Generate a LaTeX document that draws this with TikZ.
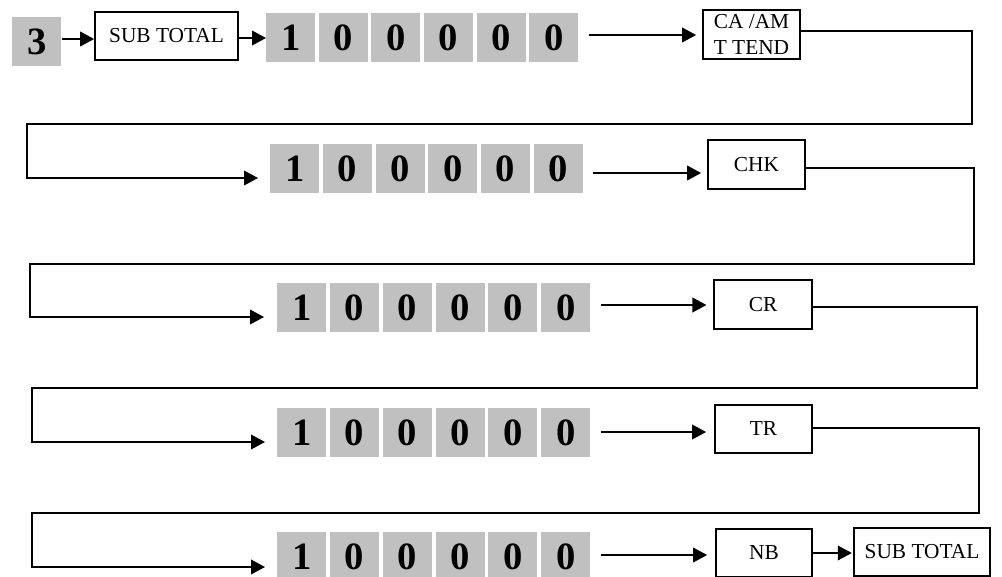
\documentclass[tikz,border=0pt]{standalone}
\usepackage{fontspec}
\setmainfont{Liberation Serif}
\usetikzlibrary{arrows.meta}
\definecolor{keygray}{RGB}{192,192,192}
\begin{document}
\begin{tikzpicture}[x=0.75pt,y=-0.75pt,
  key/.style={fill=keygray, minimum width=36.75pt, minimum height=36.75pt, inner sep=0pt,
    font=\fontsize{29}{29}\selectfont\bfseries, anchor=north west},
  lbl/.style={draw, line width=1.3pt, inner sep=0pt, align=center,
    font=\fontsize{16}{19}\selectfont},
  ln/.style={line width=1.2pt},
  arr/.style={ln, -{Triangle[length=10.5pt,width=11pt]}}]
\useasboundingbox (0,0) rectangle (1002,576);

% row 1
\node[key] (k3) at (12,17) {3};
\node[lbl, minimum width=107.25pt, minimum height=36pt] (st1) at (166.5,36) {SUB TOTAL};
\foreach \i/\t in {0/1,1/0,2/0,3/0,4/0,5/0}
  \node[key] (r1d\i) at ({266+52.6*\i},13) {\t};
\node[lbl, minimum width=72.75pt, minimum height=36.75pt] (ca) at (751.5,34.5) {CA /AM\\T TEND};

% row 2
\foreach \i/\t in {0/1,1/0,2/0,3/0,4/0,5/0}
  \node[key] (r2d\i) at ({270+52.7*\i},144) {\t};
\node[lbl, minimum width=72.75pt, minimum height=36.75pt] (chk) at (756.5,164.5) {CHK};

% row 3
\foreach \i/\t in {0/1,1/0,2/0,3/0,4/0,5/0}
  \node[key] (r3d\i) at ({277+52.8*\i},283) {\t};
\node[lbl, minimum width=73.5pt, minimum height=36.75pt] (cr) at (763,304.5) {CR};

% row 4
\foreach \i/\t in {0/1,1/0,2/0,3/0,4/0,5/0}
  \node[key] (r4d\i) at ({277+52.8*\i},408) {\t};
\node[lbl, minimum width=72.75pt, minimum height=36pt] (tr) at (763.5,429) {TR};

% row 5
\foreach \i/\t in {0/1,1/0,2/0,3/0,4/0,5/0}
  \node[key] (r5d\i) at ({277+52.8*\i},532) {\t};
\node[lbl, minimum width=72pt, minimum height=36pt] (nb) at (764,553) {NB};
\node[lbl, minimum width=102pt, minimum height=36pt] (st2) at (922,552) {SUB TOTAL};

% bend points
\coordinate (a1) at (972,31);  \coordinate (a2) at (972,124);
\coordinate (a3) at (27,124);  \coordinate (a4) at (27,178);
\coordinate (b1) at (974,168); \coordinate (b2) at (974,264);
\coordinate (b3) at (30,264);  \coordinate (b4) at (30,317);
\coordinate (c1) at (977,307); \coordinate (c2) at (977,388);
\coordinate (c3) at (32,388);  \coordinate (c4) at (32,442);
\coordinate (d1) at (979,428); \coordinate (d2) at (979,513);
\coordinate (e3) at (32,513);  \coordinate (e4) at (32,567);

% connectors row 1
\draw[arr] (k3.east |- 0,39) -- (st1.west |- 0,39);
\draw[arr] (st1.east |- 0,38) -- (r1d0.west |- 0,38);
\draw[arr, shorten <=7.5pt, shorten >=4.5pt] (r1d5.east |- 0,35) -- (ca.west |- 0,35);
\draw[arr, shorten >=9pt] (ca.east |- a1) -- (a1) -- (a2) -- (a3) -- (a4) -- (r2d0.west |- a4);

% row 2
\draw[arr, shorten <=7.5pt, shorten >=4.5pt] (r2d5.east |- 0,173) -- (chk.west |- 0,173);
\draw[arr, shorten >=9.75pt] (chk.east |- b1) -- (b1) -- (b2) -- (b3) -- (b4) -- (r3d0.west |- b4);

% row 3
\draw[arr, shorten <=7.5pt, shorten >=5pt] (r3d5.east |- 0,305) -- (cr.west |- 0,305);
\draw[arr, shorten >=9pt] (cr.east |- c1) -- (c1) -- (c2) -- (c3) -- (c4) -- (r4d0.west |- c4);

% row 4
\draw[arr, shorten <=7.5pt, shorten >=6pt] (r4d5.east |- 0,432) -- (tr.west |- 0,432);
\draw[arr, shorten >=9pt] (tr.east |- d1) -- (d1) -- (d2) -- (e3) -- (e4) -- (r5d0.west |- e4);

% row 5
\draw[arr, shorten <=7.5pt, shorten >=6pt] (r5d5.east |- 0,555) -- (nb.west |- 0,555);
\draw[arr, shorten >=1pt] (nb.east |- 0,553) -- (st2.west |- 0,553);
\end{tikzpicture}
\end{document}
